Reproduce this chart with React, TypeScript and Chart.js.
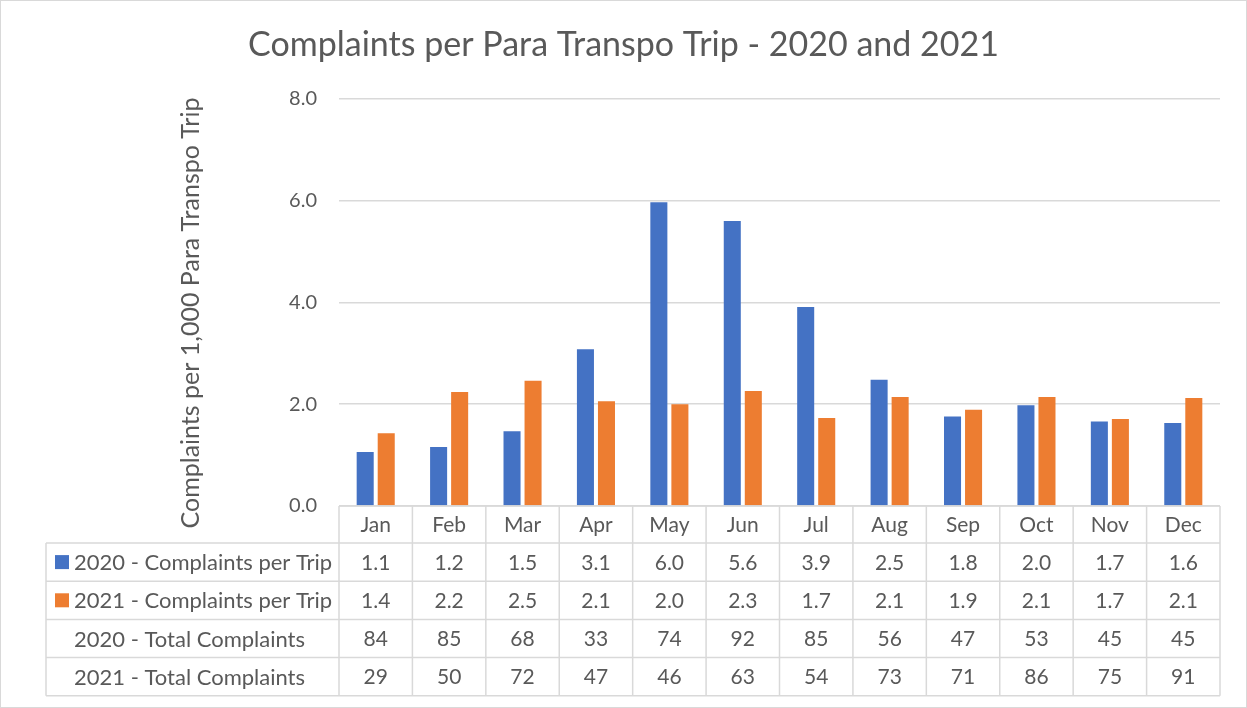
import React, { useEffect, useRef } from "react";
import { Chart, registerables } from "chart.js";

Chart.register(...registerables);

const months = ["Jan", "Feb", "Mar", "Apr", "May", "Jun", "Jul", "Aug", "Sep", "Oct", "Nov", "Dec"];
const rate2020 = [1.06, 1.16, 1.47, 3.08, 5.97, 5.6, 3.91, 2.48, 1.76, 1.98, 1.66, 1.63];
const rate2021 = [1.43, 2.24, 2.46, 2.06, 2.0, 2.26, 1.73, 2.14, 1.89, 2.14, 1.71, 2.12];
const total2020 = [84, 85, 68, 33, 74, 92, 85, 56, 47, 53, 45, 45];
const total2021 = [29, 50, 72, 47, 46, 63, 54, 73, 71, 86, 75, 91];
const yTicks = [0, 2, 4, 6, 8];

const seriesNames = [
  "2020 - Complaints per Trip",
  "2021 - Complaints per Trip",
  "2020 - Total Complaints",
  "2021 - Total Complaints",
];
const yTitle = "Complaints per 1,000 Para Transpo Trip";

const BLUE = "#4472C4";
const ORANGE = "#ED7D31";
const TEXT = "#595959";
const LINE = "#d9d9d9";
const FONT = "Lato";

const tablePlugin = {
  id: "dataTable",
  afterDraw(chart: any) {
    const ctx = chart.ctx as CanvasRenderingContext2D;
    const x = chart.scales.x;
    const area = chart.chartArea;
    const n = months.length;
    const colW = (area.right - area.left) / n;
    const top = area.bottom;
    const headerH = 37;
    const rowH = 38.2;
    const tableLeft = 46;
    const rows = [
      rate2020.map((v) => v.toFixed(1)),
      rate2021.map((v) => v.toFixed(1)),
      total2020.map((v) => String(v)),
      total2021.map((v) => String(v)),
    ];
    const rowTop = (r: number) => top + headerH + r * rowH;
    const bottom = rowTop(rows.length);

    ctx.save();
    ctx.strokeStyle = LINE;
    ctx.lineWidth = 1.5;
    ctx.beginPath();
    ctx.moveTo(area.left, top);
    ctx.lineTo(area.right, top);
    for (let r = 0; r <= rows.length; r++) {
      const y = rowTop(r);
      ctx.moveTo(tableLeft, y);
      ctx.lineTo(area.right, y);
    }
    for (let i = 0; i <= n; i++) {
      const xx = area.left + i * colW;
      ctx.moveTo(xx, top);
      ctx.lineTo(xx, bottom);
    }
    ctx.moveTo(tableLeft, rowTop(0));
    ctx.lineTo(tableLeft, bottom);
    ctx.stroke();

    ctx.fillStyle = TEXT;
    ctx.font = `21px ${FONT}`;
    ctx.textAlign = "center";
    ctx.textBaseline = "middle";
    months.forEach((m, i) => {
      ctx.fillText(m, x.getPixelForValue(i), top + headerH / 2 + 1);
    });
    rows.forEach((row, r) => {
      const cy = rowTop(r) + rowH / 2 + 1;
      row.forEach((t, i) => {
        ctx.fillText(t, x.getPixelForValue(i), cy);
      });
    });
    ctx.font = `22px ${FONT}`;
    ctx.textAlign = "left";
    seriesNames.forEach((name, r) => {
      const cy = rowTop(r) + rowH / 2;
      if (r < 2) {
        ctx.fillStyle = r === 0 ? BLUE : ORANGE;
        ctx.fillRect(55, cy - 7, 14, 14);
      }
      ctx.fillStyle = TEXT;
      ctx.fillText(name, 74, cy + 1);
    });

    // y axis title
    ctx.save();
    ctx.translate(191, 313);
    ctx.rotate(-Math.PI / 2);
    ctx.font = `25px ${FONT}`;
    ctx.textAlign = "center";
    ctx.textBaseline = "middle";
    ctx.fillStyle = TEXT;
    ctx.fillText(yTitle, 0, 0);
    ctx.restore();

    ctx.strokeStyle = LINE;
    ctx.lineWidth = 1;
    ctx.strokeRect(0.5, 0.5, chart.width - 1, chart.height - 1);
    ctx.restore();
  },
};

export default function App() {
  const ref = useRef<HTMLCanvasElement>(null);

  useEffect(() => {
    document.body.style.margin = "0";
    const canvas = ref.current;
    if (!canvas) return;
    const chart = new Chart(canvas, {
      type: "bar",
      data: {
        labels: months,
        datasets: [
          {
            label: seriesNames[0],
            data: rate2020,
            backgroundColor: BLUE,
            categoryPercentage: 0.573,
            barPercentage: 0.81,
          },
          {
            label: seriesNames[1],
            data: rate2021,
            backgroundColor: ORANGE,
            categoryPercentage: 0.573,
            barPercentage: 0.81,
          },
        ],
      },
      options: {
        responsive: false,
        animation: false,
        layout: { padding: { left: 0, right: 0, top: 0, bottom: 202 } },
        plugins: {
          legend: { display: false },
          tooltip: { enabled: false },
          title: {
            display: true,
            text: "Complaints per Para Transpo Trip - 2020 and 2021",
            color: TEXT,
            font: { family: FONT, size: 34, weight: "normal" },
            padding: { top: 25, bottom: 33 },
          },
        },
        scales: {
          x: { display: false, offset: true },
          y: {
            min: 0,
            max: 8,
            afterBuildTicks: (s: any) => {
              s.ticks = yTicks.map((v) => ({ value: v }));
            },
            afterFit: (s: any) => {
              s.width = 339;
            },
            ticks: {
              padding: 22,
              color: TEXT,
              font: { family: FONT, size: 20 },
              callback: (v: any) => Number(v).toFixed(1),
            },
            grid: { color: LINE, lineWidth: 1.5, drawTicks: false },
            border: { display: false },
          },
          yRight: {
            position: "right",
            display: true,
            min: 0,
            max: 8,
            ticks: { display: false },
            grid: { display: false, drawTicks: false },
            border: { display: false },
            afterFit: (s: any) => {
              s.width = 27;
            },
          },
        },
      },
      plugins: [tablePlugin],
    } as any);
    return () => chart.destroy();
  }, []);

  return <canvas ref={ref} width={1247} height={708} style={{ display: "block" }} />;
}
